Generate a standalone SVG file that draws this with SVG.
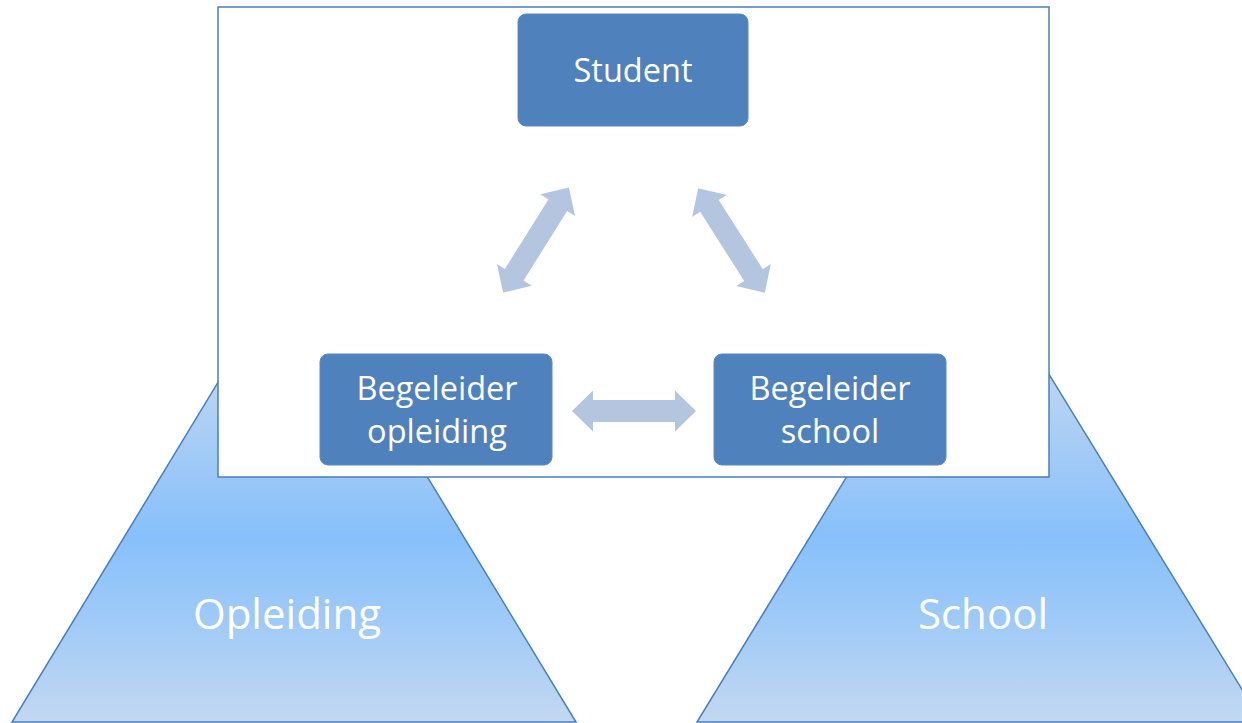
<svg xmlns="http://www.w3.org/2000/svg" width="1242" height="723" viewBox="0 0 1242 723">
<defs>
<linearGradient id="tri" x1="0" y1="0" x2="0" y2="1">
<stop offset="0" stop-color="#dbe7f6"/>
<stop offset="0.3" stop-color="#b5d2f3"/>
<stop offset="0.6" stop-color="#87c0fb"/>
<stop offset="0.78" stop-color="#9fcaf7"/>
<stop offset="1" stop-color="#c3d8f1"/>
</linearGradient>
<path id="dbl" d="M-62,0 L-41,-20.5 L-41,-11 L41,-11 L41,-20.5 L62,0 L41,20.5 L41,11 L-41,11 L-41,20.5 Z"/>
</defs>
<style>
.tri{fill:url(#tri);stroke:#4a7ebb;stroke-width:1.5}
.box{fill:#4f81bd;stroke:#5b8ac4;stroke-width:1}
.lbl{font-family:"Open Sans","Noto Sans",sans-serif;fill:#ffffff;text-anchor:middle;font-size:32.5px}
.big{font-family:"Open Sans","Noto Sans",sans-serif;fill:#ffffff;text-anchor:middle;font-size:42px}
.arr{fill:#b3c5df}
</style>
<rect width="1242" height="723" fill="#ffffff"/>
<g id="opleiding">
<polygon class="tri" points="294,257 12,722 576,722"/>
<text class="big" x="287" y="629">Opleiding</text>
</g>
<g id="school">
<polygon class="tri" points="979,260 697,722 1262,722"/>
<text class="big" x="983" y="629">School</text>
</g>
<g id="frame">
<rect x="218" y="7" width="831" height="470" fill="#ffffff" stroke="#4a7ebb" stroke-width="1.5"/>
</g>
<g id="student">
<rect class="box" x="518" y="14" width="230" height="112" rx="8"/>
<text class="lbl" x="633" y="82">Student</text>
</g>
<g id="begeleider-opleiding">
<rect class="box" x="320" y="354" width="232" height="111" rx="8"/>
<text class="lbl" x="437" y="400">Begeleider</text>
<text class="lbl" x="437" y="443">opleiding</text>
</g>
<g id="begeleider-school">
<rect class="box" x="714" y="354" width="232" height="111" rx="8"/>
<text class="lbl" x="830" y="400">Begeleider</text>
<text class="lbl" x="830" y="443">school</text>
</g>
<g id="connectors">
<use href="#dbl" class="arr" transform="translate(536,240) rotate(-58)"/>
<use href="#dbl" class="arr" transform="translate(731.5,240.5) rotate(57.5)"/>
<use href="#dbl" class="arr" transform="translate(634,411)"/>
</g>
</svg>
